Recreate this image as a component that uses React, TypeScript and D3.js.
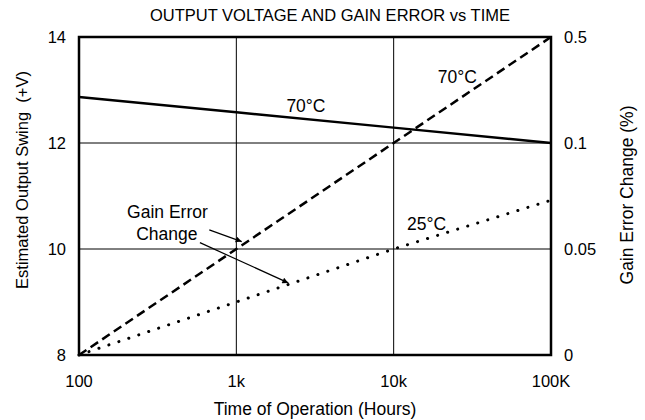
import { useEffect, useRef } from "react";
import * as d3 from "d3";

// time axis (hours, log scale)
const hours = [100, 1000, 10000, 100000];
const hourLabels = ["100", "1k", "10k", "100K"];

// output swing at 70°C (left axis, volts)
const swing70 = [12.87, 12.58, 12.29, 12.0];

// gain error change (right axis, %)
const gain70 = [0, 0.05, 0.1, 0.5];
const gain25 = [0, 0.025, 0.05, 0.073];

const leftTicks = [8, 10, 12, 14];
const rightTicks = [0, 0.05, 0.1, 0.5];
const rightTickLabels = ["0", "0.05", "0.1", "0.5"];

const FONT = "'Liberation Sans', Arial, Helvetica, sans-serif";
const TICK_FS = 16.5;
const LABEL_FS = 17.5;

export default function App() {
  const svgRef = useRef<SVGSVGElement>(null);

  useEffect(() => {
    document.body.style.margin = "0";
    if (!svgRef.current) return;
    const svg = d3.select(svgRef.current);
    svg.selectAll("*").remove();

    const W = 645;
    const H = 420;
    const margin = { top: 37, right: 94, bottom: 65, left: 79 };
    const width = W - margin.left - margin.right;
    const height = H - margin.top - margin.bottom;

    svg.attr("width", W).attr("height", H).style("font-family", FONT).style("display", "block");

    const g = svg.append("g").attr("transform", `translate(${margin.left},${margin.top})`);

    const x = d3.scaleLog().domain([100, 100000]).range([0, width]);
    const yL = d3.scaleLinear().domain([8, 14]).range([height, 0]);
    // right axis labels are unevenly spaced: piecewise scale
    const yR = d3.scaleLinear().domain(rightTicks).range([height, (height * 2) / 3, height / 3, 0]);

    // grid
    g.append("g")
      .selectAll("line")
      .data(hours.slice(1, -1))
      .enter()
      .append("line")
      .attr("x1", (d) => x(d))
      .attr("x2", (d) => x(d))
      .attr("y1", 0)
      .attr("y2", height)
      .attr("stroke", "#000")
      .attr("stroke-width", 1);

    g.append("g")
      .selectAll("line")
      .data(leftTicks.slice(1, -1))
      .enter()
      .append("line")
      .attr("x1", 0)
      .attr("x2", width)
      .attr("y1", (d) => yL(d))
      .attr("y2", (d) => yL(d))
      .attr("stroke", "#000")
      .attr("stroke-width", 1);

    // frame
    g.append("rect")
      .attr("width", width)
      .attr("height", height)
      .attr("fill", "none")
      .attr("stroke", "#000")
      .attr("stroke-width", 2.5);

    // tick labels
    g.append("g")
      .selectAll("text")
      .data(leftTicks)
      .enter()
      .append("text")
      .attr("x", -13)
      .attr("y", (d) => yL(d))
      .attr("dy", "0.35em")
      .attr("text-anchor", "end")
      .attr("font-size", TICK_FS)
      .text((d) => d);

    g.append("g")
      .selectAll("text")
      .data(rightTicks)
      .enter()
      .append("text")
      .attr("x", width + 13)
      .attr("y", (d) => yR(d))
      .attr("dy", "0.35em")
      .attr("text-anchor", "start")
      .attr("font-size", TICK_FS)
      .text((d, i) => rightTickLabels[i]);

    g.append("g")
      .selectAll("text")
      .data(hours)
      .enter()
      .append("text")
      .attr("x", (d) => x(d))
      .attr("y", height + 32)
      .attr("text-anchor", "middle")
      .attr("font-size", TICK_FS)
      .text((d, i) => hourLabels[i]);

    // titles
    svg.append("text")
      .attr("x", 330)
      .attr("y", 21)
      .attr("text-anchor", "middle")
      .attr("font-size", 16.5)
      .text("OUTPUT VOLTAGE AND GAIN ERROR vs TIME");

    svg.append("text")
      .attr("x", 315)
      .attr("y", 415)
      .attr("text-anchor", "middle")
      .attr("font-size", LABEL_FS)
      .text("Time of Operation (Hours)");

    svg.append("text")
      .attr("transform", `translate(28,180) rotate(-90)`)
      .attr("text-anchor", "middle")
      .attr("font-size", 16.5)
      .attr("xml:space", "preserve")
      .text("Estimated Output Swing  (+V)");

    svg.append("text")
      .attr("transform", `translate(633,195) rotate(-90)`)
      .attr("text-anchor", "middle")
      .attr("font-size", 17.5)
      .text("Gain Error Change (%)");

    // series
    const lineL = d3.line<number>().x((d, i) => x(hours[i])).y((d) => yL(d));
    const lineR = d3.line<number>().x((d, i) => x(hours[i])).y((d) => yR(d));

    g.append("path")
      .datum(swing70)
      .attr("d", lineL)
      .attr("fill", "none")
      .attr("stroke", "#000")
      .attr("stroke-width", 2.5);

    g.append("path")
      .datum(gain70)
      .attr("d", lineR)
      .attr("fill", "none")
      .attr("stroke", "#000")
      .attr("stroke-width", 2.5)
      .attr("stroke-dasharray", "9,5");

    g.append("path")
      .datum(gain25)
      .attr("d", lineR)
      .attr("fill", "none")
      .attr("stroke", "#000")
      .attr("stroke-width", 3)
      .attr("stroke-linecap", "round")
      .attr("stroke-dasharray", "0.1,10.4");

    // curve labels
    const labels = [
      { t: "70°C", x: 2770, y: yL(12.7) },
      { t: "70°C", x: 25400, y: yL(13.25) },
      { t: "25°C", x: 16200, y: yL(10.48) },
      { t: "Gain Error", x: 365, y: yL(10.7) },
      { t: "Change", x: 362, y: yL(10.28) },
    ];
    g.append("g")
      .selectAll("text")
      .data(labels)
      .enter()
      .append("text")
      .attr("x", (d) => x(d.x))
      .attr("y", (d) => d.y)
      .attr("dy", "0.35em")
      .attr("text-anchor", "middle")
      .attr("font-size", LABEL_FS)
      .text((d) => d.t);

    // arrows
    svg.append("defs")
      .append("marker")
      .attr("id", "arrow")
      .attr("viewBox", "0 0 10 10")
      .attr("refX", 10)
      .attr("refY", 5)
      .attr("markerWidth", 10)
      .attr("markerHeight", 6)
      .attr("markerUnits", "userSpaceOnUse")
      .attr("orient", "auto")
      .append("path")
      .attr("d", "M0,0 L10,5 L0,10 z")
      .attr("fill", "#000");

    const arrows = [
      { x1: 673, y1: yL(10.36), x2: 1082, y2: yL(10.14) },
      { x1: 587, y1: yL(10.12), x2: 2140, y2: yL(9.36) },
    ];
    g.append("g")
      .selectAll("line")
      .data(arrows)
      .enter()
      .append("line")
      .attr("x1", (d) => x(d.x1))
      .attr("y1", (d) => d.y1)
      .attr("x2", (d) => x(d.x2))
      .attr("y2", (d) => d.y2)
      .attr("stroke", "#000")
      .attr("stroke-width", 1.2)
      .attr("marker-end", "url(#arrow)");
  }, []);

  return (
    <div>
      <svg ref={svgRef}></svg>
    </div>
  );
}
